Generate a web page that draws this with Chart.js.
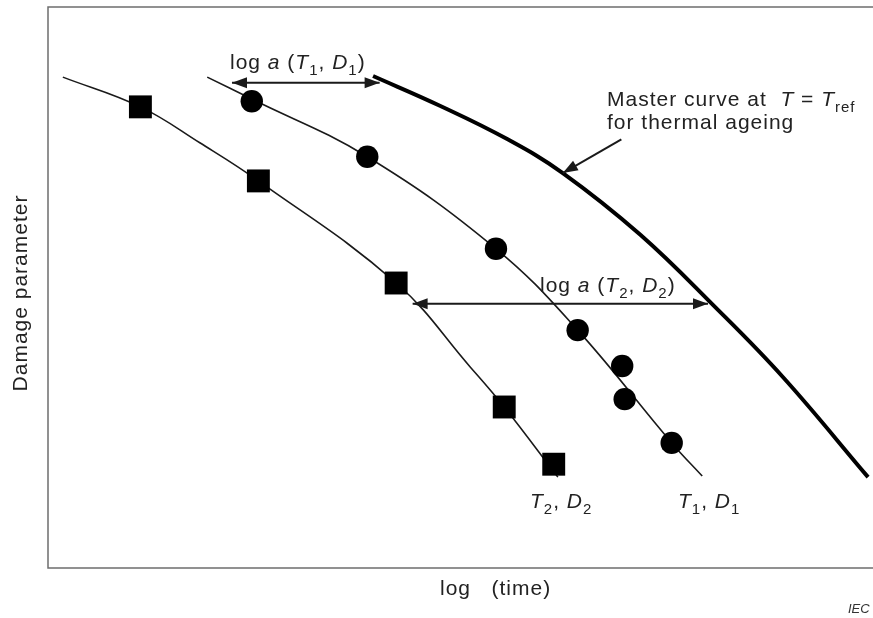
<!DOCTYPE html>
<html>
<head>
<meta charset="utf-8">
<script src="https://cdn.jsdelivr.net/npm/chart.js@4.4.0/dist/chart.umd.min.js"></script>
<style>
  html, body { margin: 0; padding: 0; background: #fff; }
</style>
</head>
<body>
<canvas id="ageChart" width="873" height="618"></canvas>
<script>
// x = log(time), y = damage parameter (arbitrary units)
// fitted curve at T2, D2
const t2CurveX = [0.18, 1.12, 1.84, 2.55, 4.22, 5.12, 5.53, 6.18];
const t2CurveY = [87.5, 82.2, 75.8, 69.0, 50.8, 35.8, 28.7, 16.2];
// measured points at T2, D2
const t2PointX = [1.12, 2.55, 4.22, 5.53, 6.13];
const t2PointY = [82.2, 69.0, 50.8, 28.7, 18.5];

// fitted curve at T1, D1
const t1CurveX = [1.93, 2.47, 3.87, 5.43, 6.42, 7.56, 7.93];
const t1CurveY = [87.5, 83.6, 73.3, 56.9, 42.4, 22.3, 16.4];
// measured points at T1, D1
const t1PointX = [2.47, 3.87, 5.43, 6.42, 6.96, 6.99, 7.56];
const t1PointY = [83.2, 73.3, 56.9, 42.4, 36.0, 30.1, 22.3];

// master curve at T = Tref
const masterX = [3.94, 4.75, 5.56, 6.24, 7.18, 8.06, 8.91, 9.94];
const masterY = [87.7, 82.4, 76.5, 70.4, 59.4, 46.9, 34.0, 16.2];

// shift factors log a: [x from, x to, y]
const shiftT1 = [2.23, 4.02, 86.5];
const shiftT2 = [4.42, 8.00, 47.1];
// pointer to the master curve: [x1, y1, x2, y2]
const masterPointer = [6.95, 76.4, 6.24, 70.4];

const pts = (xs, ys) => xs.map((x, i) => ({ x: x, y: ys[i] }));

const INK = '#1a1a1a';
const FONT = '"Liberation Sans", Arial, sans-serif';

function arrowHead(ctx, x1, y1, x2, y2) {
  const ang = Math.atan2(y2 - y1, x2 - x1);
  const len = 15, half = 5.5;
  ctx.beginPath();
  ctx.moveTo(x2, y2);
  ctx.lineTo(x2 - len * Math.cos(ang) + half * Math.sin(ang), y2 - len * Math.sin(ang) - half * Math.cos(ang));
  ctx.lineTo(x2 - len * Math.cos(ang) - half * Math.sin(ang), y2 - len * Math.sin(ang) + half * Math.cos(ang));
  ctx.closePath();
  ctx.fill();
}

function arrow(ctx, x1, y1, x2, y2, both) {
  ctx.beginPath();
  ctx.moveTo(x1, y1);
  ctx.lineTo(x2, y2);
  ctx.stroke();
  arrowHead(ctx, x1, y1, x2, y2);
  if (both) arrowHead(ctx, x2, y2, x1, y1);
}

// text made of runs: 'i' = italic, 's' = subscript
function textRuns(ctx, x, y, parts, size) {
  parts.forEach(([txt, style]) => {
    const sub = style.includes('s');
    const it = style.includes('i');
    const fs = sub ? Math.round(size * 0.72) : size;
    ctx.font = (it ? 'italic ' : '') + fs + 'px ' + FONT;
    ctx.fillText(txt, x, y + (sub ? size * 0.28 : 0));
    x += ctx.measureText(txt).width;
  });
}

const decor = {
  id: 'decor',
  beforeDatasetsDraw(chart) {
    const { ctx, chartArea: a } = chart;
    ctx.save();
    ctx.strokeStyle = '#6e6e6e';
    ctx.lineWidth = 1.5;
    ctx.beginPath();
    ctx.moveTo(a.right, a.top);
    ctx.lineTo(a.left, a.top);
    ctx.lineTo(a.left, a.bottom);
    ctx.lineTo(a.right, a.bottom);
    ctx.stroke();
    ctx.restore();
  },
  afterDatasetsDraw(chart) {
    const { ctx } = chart;
    const xs = chart.scales.x, ys = chart.scales.y;
    const px = v => xs.getPixelForValue(v), py = v => ys.getPixelForValue(v);

    ctx.save();
    ctx.strokeStyle = INK;
    ctx.fillStyle = INK;
    ctx.lineWidth = 2;
    arrow(ctx, px(shiftT1[0]), py(shiftT1[2]), px(shiftT1[1]), py(shiftT1[2]), true);
    arrow(ctx, px(shiftT2[0]), py(shiftT2[2]), px(shiftT2[1]), py(shiftT2[2]), true);
    arrow(ctx, px(masterPointer[0]), py(masterPointer[1]), px(masterPointer[2]), py(masterPointer[3]), false);

    ctx.fillStyle = '#222';
    ctx.letterSpacing = '1px';
    ctx.textBaseline = 'alphabetic';
    ctx.textAlign = 'left';
    textRuns(ctx, 230, 69, [['log ', ''], ['a', 'i'], [' (', ''], ['T', 'i'], ['1', 's'], [', ', ''], ['D', 'i'], ['1', 's'], [')', '']], 21);
    textRuns(ctx, 540, 292, [['log ', ''], ['a', 'i'], [' (', ''], ['T', 'i'], ['2', 's'], [', ', ''], ['D', 'i'], ['2', 's'], [')', '']], 21);
    textRuns(ctx, 607, 106, [['Master curve at  ', ''], ['T', 'i'], [' = ', ''], ['T', 'i'], ['ref', 's']], 21);
    textRuns(ctx, 607, 129, [['for thermal ageing', '']], 21);
    textRuns(ctx, 530, 508, [['T', 'i'], ['2', 's'], [', ', ''], ['D', 'i'], ['2', 's']], 21);
    textRuns(ctx, 678, 508, [['T', 'i'], ['1', 's'], [', ', ''], ['D', 'i'], ['1', 's']], 21);

    // axis titles
    textRuns(ctx, 440, 595, [['log   (time)', '']], 21);
    ctx.save();
    ctx.translate(27, 293);
    ctx.rotate(-Math.PI / 2);
    ctx.textAlign = 'center';
    ctx.font = '21px ' + FONT;
    ctx.fillText('Damage parameter', 0, 0);
    ctx.restore();

    ctx.letterSpacing = '0px';
    ctx.fillStyle = '#333';
    ctx.font = 'italic 13px ' + FONT;
    ctx.fillText('IEC', 848, 613);
    ctx.restore();
  }
};

new Chart(document.getElementById('ageChart'), {
  type: 'scatter',
  data: {
    datasets: [
      { data: pts(t2PointX, t2PointY), pointStyle: 'rect', pointRadius: 16.2, backgroundColor: '#000', borderWidth: 0, showLine: false },
      { data: pts(t1PointX, t1PointY), pointStyle: 'circle', pointRadius: 11.2, backgroundColor: '#000', borderWidth: 0, showLine: false },
      { data: pts(t2CurveX, t2CurveY), showLine: true, pointRadius: 0, borderColor: INK, borderWidth: 1.6, tension: 0.4 },
      { data: pts(t1CurveX, t1CurveY), showLine: true, pointRadius: 0, borderColor: INK, borderWidth: 1.6, tension: 0.4 },
      { data: pts(masterX, masterY), showLine: true, pointRadius: 0, borderColor: '#000', borderWidth: 4, tension: 0.4 }
    ]
  },
  options: {
    responsive: false,
    animation: false,
    clip: false,
    layout: { autoPadding: false, padding: { left: 48, top: 7, right: 0, bottom: 50 } },
    plugins: { legend: { display: false }, tooltip: { enabled: false } },
    scales: {
      x: { type: 'linear', display: false, min: 0, max: 10 },
      y: { type: 'linear', display: false, min: 0, max: 100 }
    }
  },
  plugins: [decor]
});
</script>
</body>
</html>
